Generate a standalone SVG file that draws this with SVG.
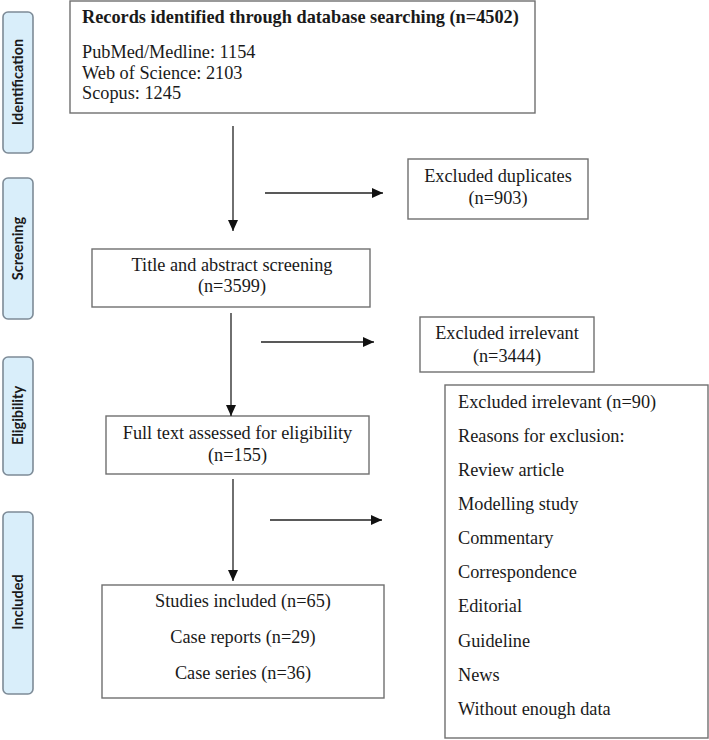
<svg xmlns="http://www.w3.org/2000/svg" width="709" height="740" viewBox="0 0 709 740">
<defs>
<marker id="ah" markerUnits="userSpaceOnUse" markerWidth="12" markerHeight="10" refX="11" refY="5" orient="auto">
<path d="M0,0 L11,5 L0,10 Z" fill="#111"/>
</marker>
<style>
.stage rect{fill:#d9eefa;stroke:#7d8b97;stroke-width:1.6}
.stage text{font-family:Lato,"Open Sans",sans-serif;font-weight:bold;font-size:14.5px;fill:#1a1a1a;text-anchor:middle}
.box rect{fill:#fff;stroke:#6f6f6f;stroke-width:1.4}
.box text{font-family:"Liberation Serif","Times New Roman",serif;font-size:18.3px;fill:#1a1a1a}
.c{text-anchor:middle}
.b{font-weight:bold}
#connectors line{stroke:#222;stroke-width:1.3;fill:none;marker-end:url(#ah)}
</style>
</defs>
<rect width="709" height="740" fill="#fff"/>

<g id="stage-identification" class="stage">
<rect x="3" y="12" width="30" height="141" rx="5"/>
<text transform="translate(23,82) rotate(-90)">Identification</text>
</g>
<g id="stage-screening" class="stage">
<rect x="3" y="178" width="30" height="141" rx="5"/>
<text transform="translate(23,248.5) rotate(-90)">Screening</text>
</g>
<g id="stage-eligibility" class="stage">
<rect x="3" y="357" width="30" height="118" rx="5"/>
<text transform="translate(23,415.5) rotate(-90)">Eligibility</text>
</g>
<g id="stage-included" class="stage">
<rect x="3" y="512" width="30" height="182" rx="5"/>
<text transform="translate(23,602) rotate(-90)">Included</text>
</g>

<g id="records" class="box">
<rect x="70" y="1" width="465" height="112"/>
<text x="82" y="23" class="b">Records identified through database searching (n=4502)</text>
<text x="82" y="58">PubMed/Medline: 1154</text>
<text x="82" y="79">Web of Science: 2103</text>
<text x="82" y="99">Scopus: 1245</text>
</g>

<g id="duplicates" class="box">
<rect x="408" y="159" width="180" height="60"/>
<text x="498" y="182" class="c">Excluded duplicates</text>
<text x="498" y="204" class="c">(n=903)</text>
</g>

<g id="screening" class="box">
<rect x="92" y="249" width="278" height="58"/>
<text x="232" y="271" class="c">Title and abstract screening</text>
<text x="232" y="292" class="c">(n=3599)</text>
</g>

<g id="irrelevant" class="box">
<rect x="420" y="317" width="174" height="55"/>
<text x="507" y="339" class="c">Excluded irrelevant</text>
<text x="507" y="362" class="c">(n=3444)</text>
</g>

<g id="fulltext" class="box">
<rect x="106" y="416" width="263" height="58"/>
<text x="237.5" y="439" class="c">Full text assessed for eligibility</text>
<text x="237.5" y="461" class="c">(n=155)</text>
</g>

<g id="excluded90" class="box">
<rect x="445" y="385" width="263" height="353"/>
<text x="458" y="408">Excluded irrelevant (n=90)</text>
<text x="458" y="442">Reasons for exclusion:</text>
<text x="458" y="476">Review article</text>
<text x="458" y="510">Modelling study</text>
<text x="458" y="544">Commentary</text>
<text x="458" y="578">Correspondence</text>
<text x="458" y="612">Editorial</text>
<text x="458" y="647">Guideline</text>
<text x="458" y="681">News</text>
<text x="458" y="715">Without enough data</text>
</g>

<g id="included" class="box">
<rect x="102" y="585" width="282" height="113"/>
<text x="243" y="607" class="c">Studies included (n=65)</text>
<text x="243" y="643" class="c">Case reports (n=29)</text>
<text x="243" y="679" class="c">Case series (n=36)</text>
</g>

<g id="connectors">
<line x1="233" y1="126" x2="233" y2="231"/>
<line x1="231" y1="313" x2="231" y2="416"/>
<line x1="233" y1="479" x2="233" y2="581"/>
<line x1="265" y1="193" x2="383" y2="193"/>
<line x1="261" y1="342" x2="374" y2="342"/>
<line x1="270" y1="520" x2="382" y2="520"/>
</g>
</svg>
